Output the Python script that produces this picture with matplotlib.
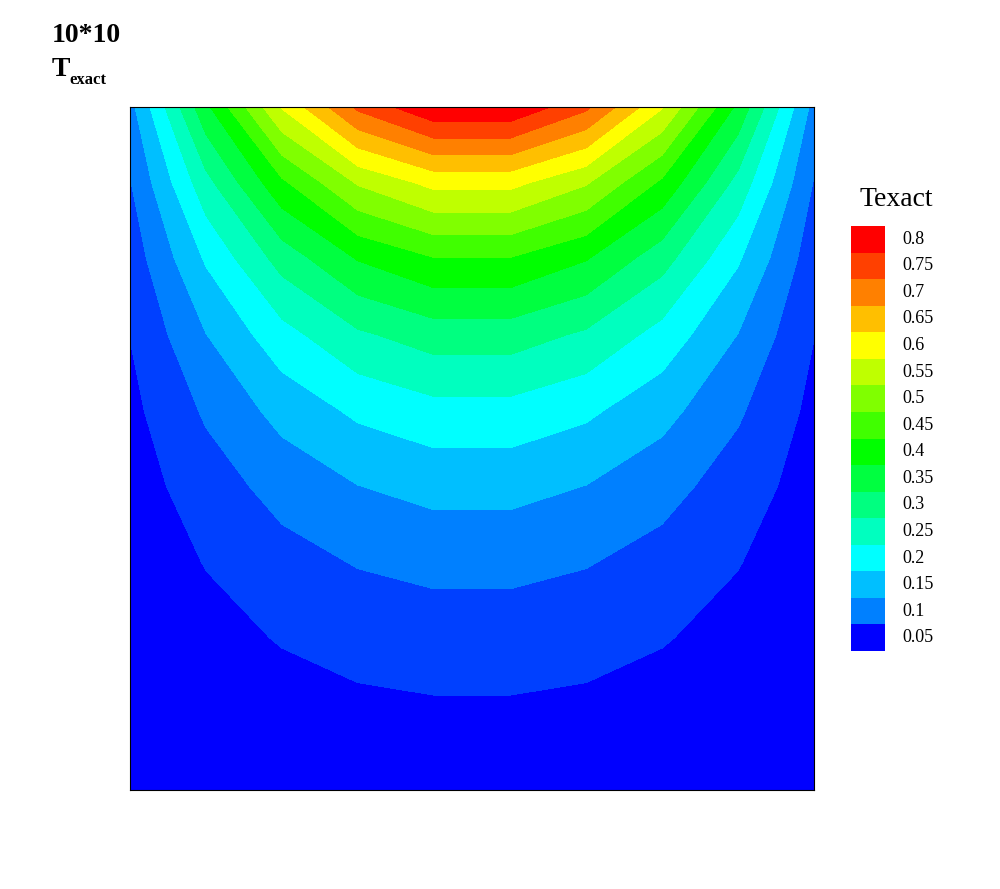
import numpy as np
import matplotlib
matplotlib.use("Agg")
import matplotlib.pyplot as plt
from matplotlib.colors import ListedColormap, BoundaryNorm

x = [0.05,0.15,0.25,0.35,0.45,0.55,0.65,0.75,0.85,0.95]
y = [0.05,0.15,0.25,0.35,0.45,0.55,0.65,0.75,0.85,0.95]
T = [
 [.002,.006,.010,.012,.014,.014,.012,.010,.006,.002],
 [.007,.019,.030,.038,.042,.042,.038,.030,.019,.007],
 [.012,.034,.053,.067,.074,.074,.067,.053,.034,.012],
 [.018,.052,.082,.103,.114,.114,.103,.082,.052,.018],
 [.026,.076,.118,.149,.166,.166,.149,.118,.076,.026],
 [.037,.107,.167,.210,.233,.233,.210,.167,.107,.037],
 [.051,.149,.232,.292,.324,.324,.292,.232,.149,.051],
 [.071,.206,.320,.403,.447,.447,.403,.320,.206,.071],
 [.097,.283,.440,.555,.615,.615,.555,.440,.283,.097],
 [.133,.388,.604,.761,.844,.844,.761,.604,.388,.133],
]
levels = [0.05,0.1,0.15,0.2,0.25,0.3,0.35,0.4,0.45,0.5,0.55,0.6,0.65,0.7,0.75,0.8]
colors = ["#0000ff","#0040ff","#0080ff","#00bfff","#00ffff","#00ffbf","#00ff80","#00ff40",
          "#00ff00","#40ff00","#80ff00","#bfff00","#ffff00","#ffbf00","#ff8000","#ff4000","#ff0000"]

fig = plt.figure(figsize=(10, 8.89), dpi=100)
ax = fig.add_axes([0.130, 1-790/889, 0.684, 683/889])
bounds = [-1] + levels + [2]
cmap = ListedColormap(colors)
norm = BoundaryNorm(bounds, cmap.N)
ax.contourf(x, y, np.array(T), levels=bounds, cmap=cmap, norm=norm)
ax.set_xlim(0.05, 0.95); ax.set_ylim(0.05, 0.95)
ax.set_xticks([]); ax.set_yticks([])
for s in ax.spines.values():
    s.set_linewidth(0.8)

lax = fig.add_axes([851/1000, 1-651/889, 34/1000, 425/889])
for k, lv in enumerate(levels):
    lax.add_patch(plt.Rectangle((0, k), 1, 1, color=colors[k+1] if k > 0 else colors[0], ec="none"))
    lax.text(1.5, k+0.5, f"{lv:g}", va="center", ha="left", fontsize=13, family="Liberation Serif")
lax.set_xlim(0, 1); lax.set_ylim(0, len(levels))
lax.axis("off")

fig.text(0.896, 1-200/889, "Texact", ha="center", va="center", fontsize=20, family="Liberation Serif")
fig.text(0.052, 1-35/889, "10*10", ha="left", va="center", fontsize=20, weight="bold", family="Liberation Serif")
fig.text(0.052, 1-70/889, "T", ha="left", va="center", fontsize=20, weight="bold", family="Liberation Serif")
fig.text(0.069, 1-80/889, "exact", ha="left", va="center", fontsize=12, weight="bold", family="Liberation Serif")
fig.savefig("out.png", dpi=100)
